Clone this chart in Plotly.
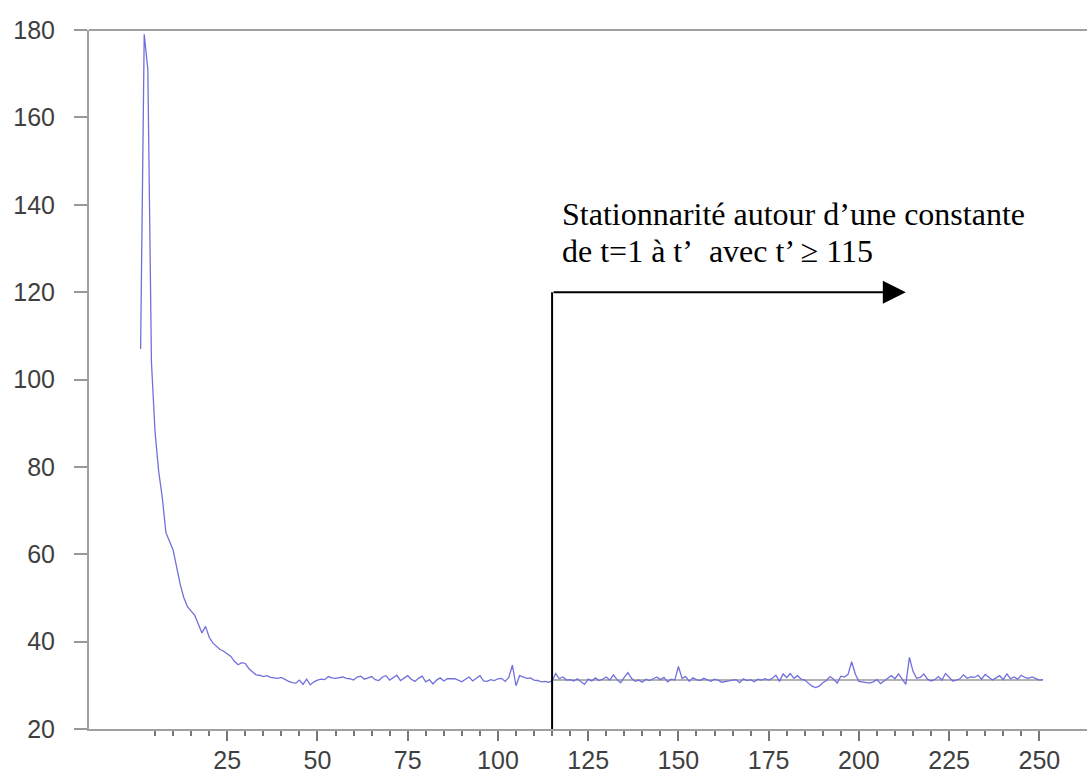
import plotly.graph_objects as go

# ---- data ----
t_values = list(range(1, 252))
series = [
    107, 179, 171, 104, 88, 79, 73, 65, 63, 61,
    57, 53, 50, 48, 47, 46, 44, 42, 43.5, 41,
    39.7, 39, 38.2, 37.8, 37.2, 36.6, 35.5, 34.7, 35.2, 35.0,
    33.8, 33, 32.4, 32.3, 32, 32.2, 31.8, 31.7, 31.6, 31.8,
    31.3, 30.9, 30.6, 30.5, 31.2, 30.2, 31.4, 30.1, 30.8, 31.2,
    31.4, 31.3, 32, 31.7, 31.6, 31.8, 31.9, 31.6, 31.5, 31.2,
    31.9, 32.1, 31.4, 31.7, 32, 31.3, 31.1, 31.9, 32.2, 31.2,
    31.8, 32.3, 31.1, 31.6, 32.2, 31.4, 30.9, 31.6, 32.1, 30.8,
    31.3, 30.3, 31.2, 31.7, 31.0, 31.5, 31.5, 31.5, 31.2, 30.8,
    31.4, 31.9, 31.0, 31.6, 32.2, 31.0, 30.9, 31.3, 31.1, 31.5,
    31.6, 30.9, 31.8, 34.6, 29.9, 32.2, 31.9, 31.6, 31.7, 31.2,
    31.1, 30.8, 30.9, 30.7, 31.0, 32.7, 31.5, 31.9, 31.2, 31.3,
    31.0, 31.5, 30.8, 30.2, 31.4, 31.0, 31.7, 31.1, 31.4, 31.9,
    31.2, 32.4, 31.3, 30.6, 31.8, 32.9, 31.6, 30.9, 31.2, 30.7,
    31.4, 31.1, 31.5, 31.9, 31.3, 31.8, 30.8, 31.4, 31.2, 34.3,
    31.6, 32.0, 30.9, 31.7, 31.3, 31.1, 31.6, 31.2, 30.9, 31.4,
    31.2, 30.7, 30.8, 31.0, 31.2, 31.3, 30.6, 31.5, 31.1, 31.3,
    30.8, 31.4, 31.2, 31.5, 31.2, 31.6, 32.3, 30.9, 32.6, 31.8,
    32.7, 31.6, 32.2, 31.4, 31.2, 30.5, 29.8, 29.5, 29.8, 30.6,
    31.1, 32.0, 31.4, 30.5, 32.1, 31.9, 32.5, 35.4, 32.6, 30.9,
    30.8, 30.6, 30.5, 30.8, 31.3, 30.4, 31.1, 31.6, 32.2, 31.5,
    32.6, 31.4, 30.2, 36.4, 33.2, 31.6, 31.8, 32.6, 31.4, 31.0,
    31.3, 32.0, 31.2, 32.7, 31.8, 31.0, 31.2, 31.5, 32.4, 31.6,
    31.9, 31.8, 32.3, 31.4, 32.5, 31.9, 31.2, 31.7, 32.2, 31.3,
    32.6, 31.5, 31.9, 31.4, 32.3, 31.8, 31.6, 31.9, 31.5, 31.2,
    31.3,
]
level_t = [115, 251]
level_v = [31.2, 31.2]

x_major_ticks = [25, 50, 75, 100, 125, 150, 175, 200, 225, 250]
x_minor_ticks = list(range(5, 255, 5))
y_ticks = [20, 40, 60, 80, 100, 120, 140, 160, 180]

t_prime = 115
arrow_level = 120
arrow_end = 213
line1 = "Stationnarité autour d\u2019une constante"
line2 = "de t=1 à t\u2019\u00a0 avec t\u2019 \u2265 115"

fig = go.Figure()
fig.add_trace(go.Scatter(x=level_t, y=level_v, mode="lines",
                         line=dict(color="#9a9a9a", width=1.6), hoverinfo="skip"))
fig.add_trace(go.Scatter(x=t_values, y=series, mode="lines",
                         line=dict(color="#7070dc", width=1.3)))

axis_grey = "#a0a0a0"
tick_font = dict(family="Liberation Sans, Arial, sans-serif", size=25, color="#3f3f3f")

# figure slightly wider than the window so the frame runs off the right edge
fig.update_layout(
    width=1100, height=774,
    margin=dict(l=89, r=0, t=30, b=45),
    paper_bgcolor="white", plot_bgcolor="white",
    showlegend=False,
    xaxis=dict(range=[-13.3, 266.8], showgrid=False, zeroline=False, automargin=False,
               showline=True, linecolor=axis_grey, linewidth=2,
               tickmode="array", tickvals=x_major_ticks,
               ticks="outside", ticklen=10, tickwidth=1.5, tickcolor="#777777",
               tickfont=tick_font, ticklabelstandoff=-2,
               minor=dict(tickmode="array", tickvals=x_minor_ticks, ticks="outside",
                          ticklen=5, tickwidth=1.5, tickcolor="#777777")),
    yaxis=dict(range=[20, 180], showgrid=False, zeroline=False, automargin=False,
               showline=True, linecolor=axis_grey, linewidth=2,
               tickmode="array", tickvals=y_ticks,
               ticks="outside", ticklen=13, tickwidth=1.5, tickcolor="#999999",
               tickfont=tick_font, ticklabelstandoff=14),
)

# top frame line
fig.add_shape(type="line", xref="paper", yref="paper", x0=0, x1=1, y0=1, y1=1,
              line=dict(color=axis_grey, width=2))
# vertical segment of the arrow
fig.add_shape(type="line", xref="x", yref="y", x0=t_prime, x1=t_prime,
              y0=20, y1=arrow_level, line=dict(color="black", width=2))
# horizontal arrow
fig.add_annotation(x=arrow_end, y=arrow_level, ax=t_prime, ay=arrow_level,
                   xref="x", yref="y", axref="x", ayref="y", text="",
                   showarrow=True, arrowhead=2, arrowsize=2.3, arrowwidth=2,
                   arrowcolor="black", standoff=0, startstandoff=0)

serif = dict(family="Liberation Serif, Times New Roman, serif", size=32, color="black")
fig.add_annotation(x=117.2, y=137.8, xref="x", yref="y", text=line1, showarrow=False,
                   xanchor="left", yanchor="middle", font=serif)
fig.add_annotation(x=117.2, y=129.4, xref="x", yref="y", text=line2, showarrow=False,
                   xanchor="left", yanchor="middle", font=serif)

fig.write_html("out.html", config={"displayModeBar": False},
               post_script="document.body.style.margin='0';document.body.style.overflow='hidden';")
